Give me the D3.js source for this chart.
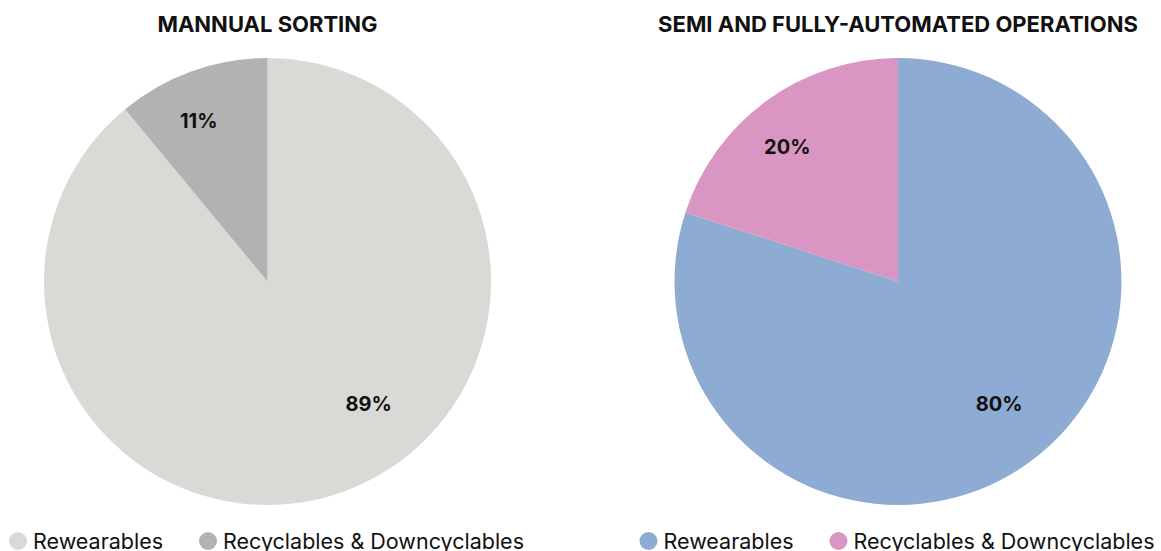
<!DOCTYPE html>
<html>
<head>
<meta charset="utf-8">
<script src="https://cdn.jsdelivr.net/npm/d3@7"></script>
<style>
    body { margin: 0; background: #fff; }
    svg { display: block; font-family: Inter, "Noto Sans", sans-serif; }
</style>
</head>
<body>
<div id="chart"></div>
<script>
// data
let categories = ["Rewearables", "Recyclables & Downcyclables"];
let titles = ["MANNUAL SORTING", "SEMI AND FULLY-AUTOMATED OPERATIONS"];
let manualValues = [89, 11];
let automatedValues = [80, 20];
let manualColors = ["#d9dad5", "#b1b2b1"];
let automatedColors = ["#8eabd3", "#da96c3"];

let width = 1161, height = 551;

let svg = d3.select("#chart").append("svg")
    .attr("width", width)
    .attr("height", height);

let pies = [
    {title: titles[0], values: manualValues, colors: manualColors, cx: 267.5},
    {title: titles[1], values: automatedValues, colors: automatedColors, cx: 898}
];

let radius = 223.5;
let cy = 281.5;

let pie = d3.pie()
    .sort(null)
    .value(d => d);

let arc = d3.arc()
    .innerRadius(0)
    .outerRadius(radius);

pies.forEach(function(p) {
    let g = svg.append("g")
        .attr("transform", "translate(" + p.cx + "," + cy + ")");

    let slices = pie(p.values);

    g.selectAll("path.slice")
        .data(slices)
        .enter()
        .append("path")
        .attr("class", "slice")
        .attr("d", arc)
        .style("fill", (d, i) => p.colors[i]);

    // labels: small slice near its centroid, big slice down on the right side
    g.selectAll("text.pct")
        .data(slices)
        .enter()
        .append("text")
        .attr("class", "pct")
        .attr("text-anchor", "middle")
        .attr("dy", "0.35em")
        .attr("transform", function(d) {
            let a, r;
            if (d.endAngle - d.startAngle > Math.PI) {
                a = 2.45;
                r = radius * 0.71;
            } else {
                a = (d.startAngle + d.endAngle) / 2 - 0.06;
                r = radius * 0.78;
            }
            return "translate(" + (Math.sin(a) * r) + "," + (-Math.cos(a) * r) + ")";
        })
        .style("font-size", "20px")
        .style("font-weight", "700")
        .style("fill", "#111")
        .text(d => d.data + "%");

    svg.append("text")
        .attr("x", p.cx)
        .attr("y", 32)
        .attr("text-anchor", "middle")
        .style("font-size", "22px")
        .style("font-weight", "700")
        .style("fill", "#111")
        .text(p.title);

    // legend
    let legend = svg.append("g")
        .attr("transform", "translate(" + (p.cx - 249.5) + "," + 541 + ")");

    let offsets = [0, 190];
    categories.forEach(function(c, i) {
        legend.append("circle")
            .attr("cx", offsets[i])
            .attr("cy", 0)
            .attr("r", 9)
            .style("fill", p.colors[i]);
        legend.append("text")
            .attr("x", offsets[i] + 15)
            .attr("y", 8)
            .style("font-size", "21.5px")
            .style("fill", "#111")
            .text(c);
    });
});
</script>
</body>
</html>
